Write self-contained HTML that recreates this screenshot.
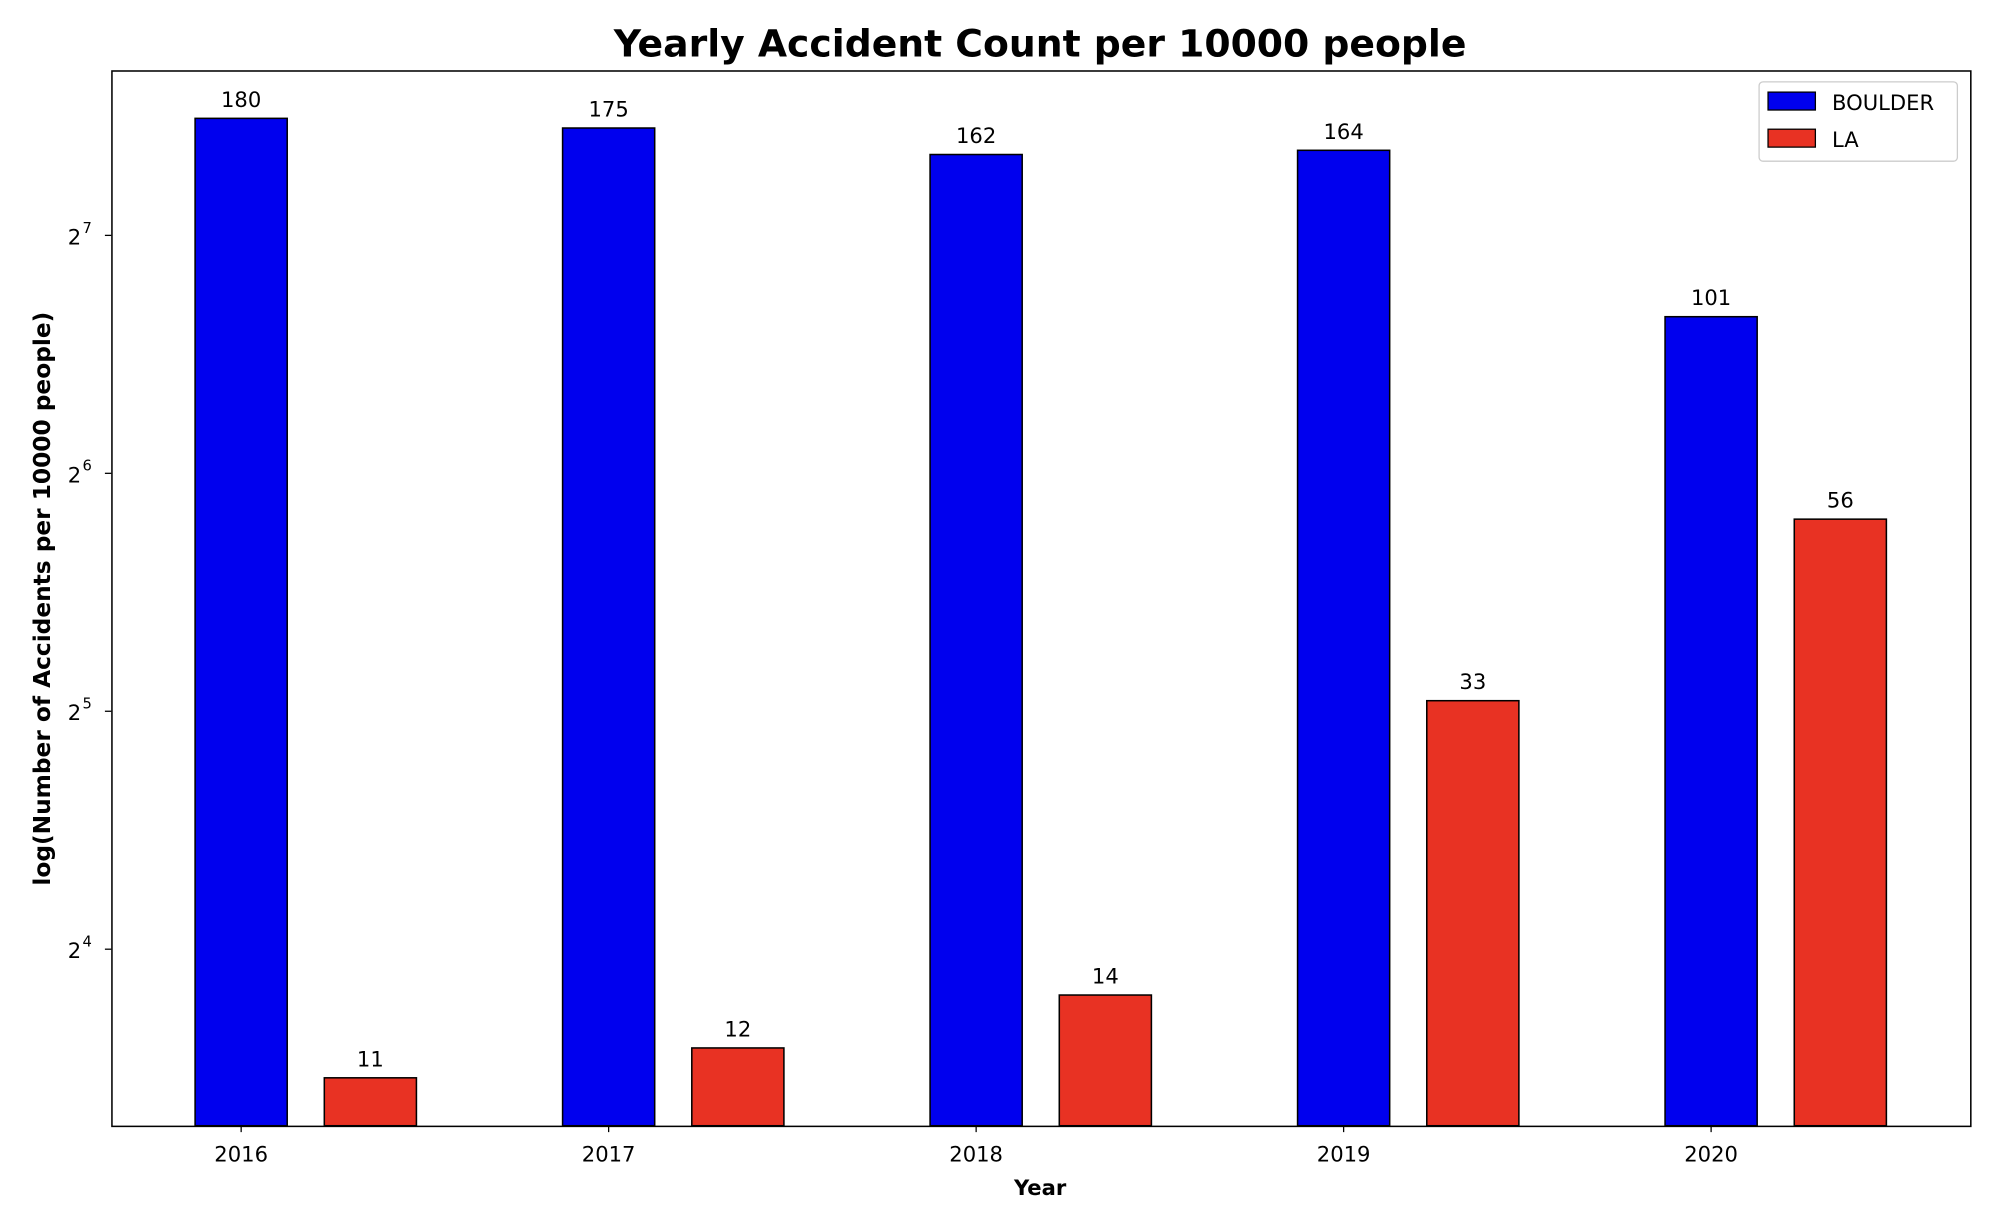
<!DOCTYPE html>
<html><head><meta charset="utf-8"><style>
html,body{margin:0;padding:0;background:#fff;}
svg{display:block;font-family:"DejaVu Sans","Liberation Sans",sans-serif;}
</style></head><body>
<svg id="chart" width="2006" height="1214" viewBox="0 0 1568 949" preserveAspectRatio="none" xmlns="http://www.w3.org/2000/svg">
<rect x="0" y="0" width="1568" height="949" fill="#fff"/>
<text x="813" y="44" text-anchor="middle" font-size="29.5" font-weight="bold">Yearly Accident Count per 10000 people</text>
<g id="bars"></g>
<g id="axes"></g>
<rect x="87.5" y="55.5" width="1453" height="825" fill="none" stroke="#000" stroke-width="1.2"/>
<text x="813" y="934" text-anchor="middle" font-size="16.5" font-weight="bold">Year</text>
<text transform="translate(39,468) rotate(-90)" text-anchor="middle" font-size="18.2" font-weight="bold">log(Number of Accidents per 10000 people)</text>
<g>
<rect x="1375" y="64" width="155" height="62" rx="3" fill="#fff" stroke="#ccc"/>
<rect x="1382" y="72" width="37" height="14" fill="#0000ee" stroke="#000"/>
<text x="1432" y="86" font-size="16.5">BOULDER</text>
<rect x="1382" y="101" width="37" height="14" fill="#e83223" stroke="#000"/>
<text x="1432" y="115" font-size="16.5">LA</text>
</g>
</svg>
<script>
const years = ['2016','2017','2018','2019','2020'];
const boulder = [180,175,162,164,101];
const la = [11,12,14,33,56];
const yTickExps = [4,5,6,7];

const NS='http://www.w3.org/2000/svg';
const plotTop=55, plotBottom=880;
const y0=742, pxPerDoubling=186, exp0=4;
function yScale(v){return y0-(Math.log2(v)-exp0)*pxPerDoubling;}
function xCenter(i){return 188.5+i*287.25;}
const barW=72, offset=101;
const bars=document.getElementById('bars');
const axes=document.getElementById('axes');
function mk(tag,attrs){const e=document.createElementNS(NS,tag);for(const k in attrs)e.setAttribute(k,attrs[k]);return e;}
function drawBar(v,cx,color,name){
  const y=yScale(v);
  const r=mk('rect',{x:cx-barW/2,y:y,width:barW,height:plotBottom-y,fill:color,stroke:'#000','stroke-width':1.2});
  
  
  bars.appendChild(r);
  const t=mk('text',{x:cx,y:y-9,'text-anchor':'middle','font-size':16.5});
  
  
  t.textContent=v;bars.appendChild(t);
}
years.forEach((yr,i)=>{
  drawBar(boulder[i],xCenter(i),'#0000ee','bar-boulder-'+yr);
  drawBar(la[i],xCenter(i)+offset,'#e83223','bar-la-'+yr);
  const tk=mk('line',{x1:xCenter(i),x2:xCenter(i),y1:plotBottom,y2:plotBottom+5,stroke:'#000'});
  
  
  axes.appendChild(tk);
  const lb=mk('text',{x:xCenter(i),y:908,'text-anchor':'middle','font-size':16.5});
  
  
  lb.textContent=yr;axes.appendChild(lb);
});
yTickExps.forEach(e=>{
  const y=yScale(Math.pow(2,e));
  const tk=mk('line',{x1:82,x2:87,y1:y,y2:y,stroke:'#000'});
  
  
  axes.appendChild(tk);
  const lb=mk('text',{x:53,y:y+7,'font-size':16.5});
  
  
  lb.textContent='2';
  const sup=mk('tspan',{'font-size':11.5,dy:-9,dx:1});sup.textContent=e;lb.appendChild(sup);
  axes.appendChild(lb);
});
</script>
</body></html>
